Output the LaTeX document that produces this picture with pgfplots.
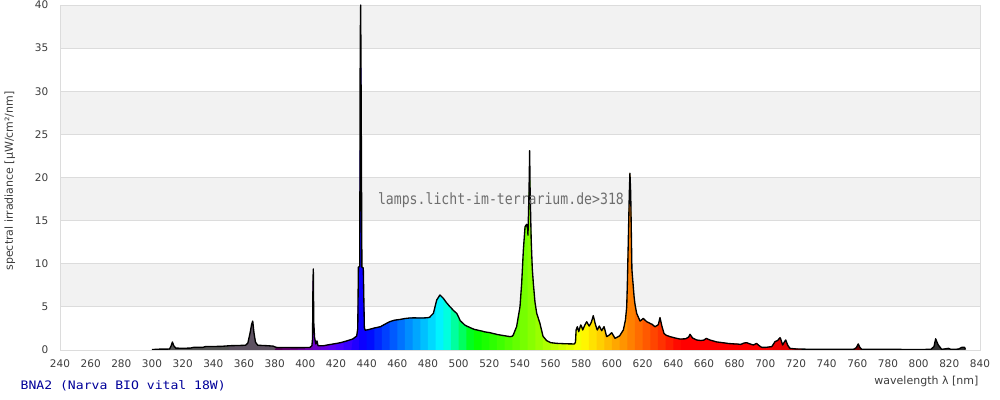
\documentclass[border=0pt]{standalone}
\usepackage{fontspec}
\setmainfont{DejaVu Sans}
\newfontfamily\monoA{DejaVu Sans Mono}[FakeStretch=1.12]
\newfontfamily\monoB{DejaVu Sans Mono}[FakeStretch=0.85]
\usepackage[rgb]{xcolor}
\usepackage{pgfplots}
\pgfplotsset{compat=1.18}
\usepackage{pgfplotstable}

\definecolor{gridc}{HTML}{DCDCDC}
\definecolor{bandc}{HTML}{F2F2F2}
\definecolor{tickc}{HTML}{3C3C3C}
\definecolor{labelc}{HTML}{3C3C3C}
\definecolor{titlec}{HTML}{000099}
\definecolor{wmc}{HTML}{6E6E6E}
\definecolor{uvA}{HTML}{555555}
\definecolor{uvB}{HTML}{5E5262}
\definecolor{irc}{HTML}{333333}
\foreach \w in {380,385,...,775}{\pgfmathsetmacro\c{\w+2.5}\definecolor{tmpw}{wave}{\c}\xglobal\colorlet{wv\w}[rgb]{tmpw}}

\pgfplotstableread{
x y
300 0.05
305 0.1
310 0.1
311.5 0.12
312.5 0.5
313.3 0.93
314.2 0.5
315.5 0.22
320 0.2
325 0.22
327 0.3
333 0.3
335 0.4
345 0.42
351 0.5
356 0.52
361 0.55
362.5 0.8
364 2.0
365 3.0
365.7 3.35
366.5 2.0
367.5 0.9
369 0.55
375 0.5
379 0.45
381 0.3
385 0.29
390 0.28
395 0.27
400 0.28
403 0.3
404.3 0.5
404.7 1.3
405.0 8.0
405.2 9.4
405.5 3.2
406 1.5
406.8 0.7
407.6 1.05
408.3 0.5
410 0.5
412 0.5
415 0.6
420 0.75
423 0.85
425 0.95
427 1.05
431 1.28
433.5 1.62
434.2 2.5
434.6 9.6
435.1 9.65
435.5 9.7
435.8 36
436.1 40
436.5 25.8
436.9 9.6
437.8 9.5
438.5 2.6
439 2.3
440 2.32
442 2.4
445 2.55
449 2.7
450 2.8
452 3.0
455 3.28
458 3.45
460 3.5
462 3.55
465 3.65
468 3.71
470 3.72
472 3.72
475 3.71
477 3.71
480 3.75
481 3.79
483.5 4.25
485 5.3
485.7 5.8
487.8 6.38
490 5.99
492 5.5
494.3 5.02
495 4.9
496.5 4.6
498.7 4.25
500 3.8
501 3.4
504 2.9
505 2.8
507.4 2.6
510 2.4
513.9 2.24
515 2.2
517 2.1
520 2.02
520.4 2.0
524 1.85
525 1.8
527 1.74
530 1.65
533.5 1.55
535 1.6
535.6 1.74
537.8 2.71
540 5.02
541.1 7.73
542.2 11.6
543.3 14.3
544.3 14.57
545 14.0
545.2 13.3
545.9 18.5
546.3 23.1
546.6 18.5
547.3 12.8
548 9.5
548.7 7.73
549.8 5.5
550 5.3
550.9 4.25
553 3.09
555 1.6
555.2 1.55
557.4 1.08
560 0.85
564 0.77
565 0.76
570 0.72
575 0.7
575.5 0.7
576.2 0.9
576.6 2.32
577.4 2.7
578.3 2.12
579.6 2.9
580 2.8
580.9 2.32
582.3 2.9
583.5 3.28
585 2.8
585.2 2.78
586.5 3.2
587.8 3.98
589 3.09
590 2.5
590.4 2.32
591.7 2.78
593.3 2.24
594.8 2.71
595 2.6
596.5 1.55
598 1.7
599.8 2.0
600 1.95
602 1.35
604.8 1.62
605 1.65
607.4 2.32
608.8 3.5
609.6 5.02
610 7.5
610.6 12.4
611.3 18.2
611.7 20.5
612.2 18.2
613 9.3
614.4 6.2
615 5.3
616.1 4.25
618.3 3.35
620 3.6
620.4 3.67
622.6 3.28
624.8 3.09
625 3.05
626 3.0
628 2.7
630 2.9
630.3 3.0
631.3 3.75
632.5 2.8
633.9 1.93
635 1.75
635.5 1.7
637.8 1.55
640 1.45
641 1.4
644.3 1.27
645 1.27
648 1.3
650 1.5
650.9 1.82
652.5 1.4
655 1.17
655.2 1.16
658 1.1
660 1.15
661.5 1.35
662.8 1.24
664 1.15
665 1.1
668.3 0.93
670 0.9
672 0.85
675 0.78
676 0.75
680 0.7
681.3 0.7
684 0.65
685 0.72
686 0.8
687.8 0.85
690 0.7
692.2 0.58
694.3 0.77
695 0.65
696 0.5
697.6 0.31
700 0.3
704.2 0.39
705 0.6
706.3 0.97
708 1.1
709.6 1.43
710 1.3
710.5 1.0
711.3 0.58
712.3 0.9
713.3 1.16
714.5 0.6
715 0.45
716.1 0.19
720 0.12
725 0.1
730 0.08
735 0.08
740 0.08
745 0.08
750 0.08
755 0.08
758 0.1
759.5 0.3
760 0.5
760.6 0.7
761.7 0.3
762.8 0.08
765 0.08
770 0.08
775 0.08
780 0.08
800 0.05
808 0.08
810 0.4
811.1 1.3
812 0.9
812.8 0.58
815 0.08
818 0.15
819.4 0.19
821 0.08
826 0.1
828 0.3
830 0.3
830.5 0.05
}\spec

\newcommand\bandfill[3]{% color, from, to
  \pgfmathsetmacro\bb{#3+20}%
  \edef\temp{\noexpand\addplot[fill=#1, draw=none, forget plot] table[x expr={min(max(\noexpand\thisrow{x},#2),\bb)}, y expr={((\noexpand\thisrow{x}<#2) || (\noexpand\thisrow{x}>\bb)) ? 0 : \noexpand\thisrow{y}}] {\noexpand\spec} \noexpand\closedcycle;}%
  \temp}

\begin{document}
\begin{tikzpicture}
\begin{axis}[
  at={(18pt,15pt)}, anchor=south west,
  scale only axis, width=276pt, height=103.5pt,
  xmin=240, xmax=840, ymin=0, ymax=40,
  xtick={240,260,...,840}, ytick={0,5,...,40},
  major tick length=0pt,
  ymajorgrids, grid style={gridc, line width=0.25pt},
  axis line style={gridc, line width=0.25pt},
  set layers, clip mode=individual,
  tick label style={font=\fontsize{3.15}{3.6}\selectfont, text=tickc, /pgf/number format/assume math mode=true},
  yticklabel style={anchor=east, inner sep=0pt, xshift=-3.3pt},
  xticklabel style={anchor=north, inner sep=0pt, yshift=-2.85pt},
  xlabel={wavelength λ [nm]}, ylabel={spectral irradiance [µW/cm²/nm]},
  label style={font=\fontsize{3.3}{3.9}\selectfont, text=labelc},
  xlabel style={at={(axis description cs:1,0)}, anchor=base east, inner sep=0pt, yshift=-10.35pt, xshift=-0.3pt},
  ylabel style={at={(axis description cs:-0.0511,0.49)}, anchor=base, inner sep=0pt},
]
\addplot[on layer=axis background, fill=bandc, draw=none, forget plot] coordinates {(240,5) (840,5) (840,10) (240,10)};
\addplot[on layer=axis background, fill=bandc, draw=none, forget plot] coordinates {(240,15) (840,15) (840,20) (240,20)};
\addplot[on layer=axis background, fill=bandc, draw=none, forget plot] coordinates {(240,25) (840,25) (840,30) (240,30)};
\addplot[on layer=axis background, fill=bandc, draw=none, forget plot] coordinates {(240,35) (840,35) (840,40) (240,40)};

\bandfill{uvA}{300}{350}
\bandfill{uvB}{350}{380}
\foreach \a in {380,385,...,775}{%
  \pgfmathtruncatemacro\b{\a+5}%
  \bandfill{wv\a}{\a}{\b}%
}
\bandfill{irc}{780}{840}

\addplot[black, line width=0.4pt, line join=round, forget plot] table[x=x, y=y] {\spec};

\node[font=\monoB\fontsize{4.65}{5}\selectfont, text=wmc, anchor=base, inner sep=0pt] at (rel axis cs:0.4793,0.4223) {lamps.licht-im-terrarium.de>318};
\node[font=\monoA\fontsize{3.51}{4}\selectfont, text=titlec, anchor=base west, inner sep=0pt] at (rel axis cs:-0.04348,-0.1145) {BNA2 (Narva BIO vital 18W)};
\end{axis}
\pgfresetboundingbox
\useasboundingbox (0,0) rectangle (300pt,120pt);
\end{tikzpicture}
\end{document}
